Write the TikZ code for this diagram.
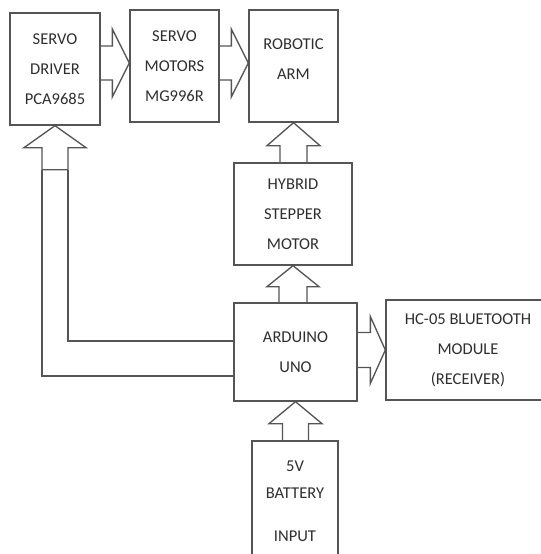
\documentclass[tikz,border=0pt]{standalone}
\usepackage{fontspec}
\setmainfont{Carlito}
\usepackage{tikz}
\usetikzlibrary{calc}
\definecolor{linegray}{HTML}{555555}
\definecolor{textgray}{HTML}{2E2E2E}

\begin{document}
\begin{tikzpicture}[x=0.75pt, y=-0.75pt,
		box/.style={draw=linegray, line width=1pt, inner sep=0pt, align=center, text=textgray, font=\fontsize{12.4}{22.5}\selectfont},
		barrow/.style={draw=linegray, line width=1pt, line join=miter}]
		\useasboundingbox (0,0) rectangle (541,554);
		\node[box, minimum width=67.5pt, minimum height=84pt] (drv) at (55,69) {SERVO\\DRIVER\\PCA9685};
		\node[box, minimum width=66.75pt, minimum height=84pt] (mot) at (174.5,66) {SERVO\\MOTORS\\MG996R};
		\node[box, minimum width=66.75pt, minimum height=84pt] (arm) at (293.5,66) {ROBOTIC\\ARM\\[-12pt]};
		\node[box, minimum width=88.5pt, minimum height=76.5pt] (hyb) at (293,214) {HYBRID\\STEPPER\\MOTOR};
		\node[box, minimum width=92.25pt, minimum height=73.5pt] (ard) at (295.5,352) {ARDUINO\\UNO};
		\node[box, minimum width=123pt, minimum height=75pt] (hc) at (468,350) {HC-05 BLUETOOTH\\MODULE\\(RECEIVER)};
		\node[box, minimum width=64.5pt, minimum height=90pt] (bat) at (295,501) {5V\\[-2.25pt]BATTERY\\[9.75pt]INPUT};
		% right block arrows
		\draw[barrow] ($(drv.east |- mot.west)+(0,-20)$) -- ($(mot.west)+(-17,-20)$) -- ($(mot.west)+(-17,-37)$) -- ($(mot.west)+(0,-3)$) -- ($(mot.west)+(-17,31)$) -- ($(mot.west)+(-17,14)$) -- ($(drv.east |- mot.west)+(0,14)$);
		\draw[barrow] ($(mot.east |- arm.west)+(0,-20)$) -- ($(arm.west)+(-17,-20)$) -- ($(arm.west)+(-17,-37)$) -- ($(arm.west)+(0,-3)$) -- ($(arm.west)+(-17,31)$) -- ($(arm.west)+(-17,14)$) -- ($(mot.east |- arm.west)+(0,14)$);
		\draw[barrow] ($(ard.east |- hc.west)+(0,-17.5)$) -- ($(hc.west)+(-15,-17.5)$) -- ($(hc.west)+(-15,-33.5)$) -- (hc.west) -- ($(hc.west)+(-15,33.5)$) -- ($(hc.west)+(-15,17.5)$) -- ($(ard.east |- hc.west)+(0,17.5)$);
		% up block arrows
		\draw[barrow] ($(arm.south |- hyb.north)+(-13.5,0)$) -- ($(arm.south)+(-13.5,23)$) -- ($(arm.south)+(-26.5,23)$) -- (arm.south) -- ($(arm.south)+(26.5,23)$) -- ($(arm.south)+(13.5,23)$) -- ($(arm.south |- hyb.north)+(13.5,0)$);
		\draw[barrow] ($(hyb.south |- ard.north)+(-14,0)$) -- ($(hyb.south)+(-14,21)$) -- ($(hyb.south)+(-26,21)$) -- (hyb.south) -- ($(hyb.south)+(26,21)$) -- ($(hyb.south)+(14,21)$) -- ($(hyb.south |- ard.north)+(14,0)$);
		\draw[barrow] ($(ard.south |- bat.north)+(-13,0)$) -- ($(ard.south)+(-13,22)$) -- ($(ard.south)+(-26.5,22)$) -- (ard.south) -- ($(ard.south)+(26.5,22)$) -- ($(ard.south)+(13,22)$) -- ($(ard.south |- bat.north)+(13,0)$);
		% arduino to servo driver
		\draw[barrow] ($(drv.south)+(-13,44)$) -- ($(drv.south)+(-13,22)$) -- ($(drv.south)+(-31,22)$) -- (drv.south) -- ($(drv.south)+(31,22)$) -- ($(drv.south)+(13,22)$) -- ($(drv.south)+(13,44)$) -- cycle;
		\draw[barrow] ($(drv.south)+(-13,44)$) |- ($(ard.west)+(0,24)$);
		\draw[barrow] ($(drv.south)+(13,44)$) |- ($(ard.west)+(0,-11)$);
	\end{tikzpicture}
\end{document}
